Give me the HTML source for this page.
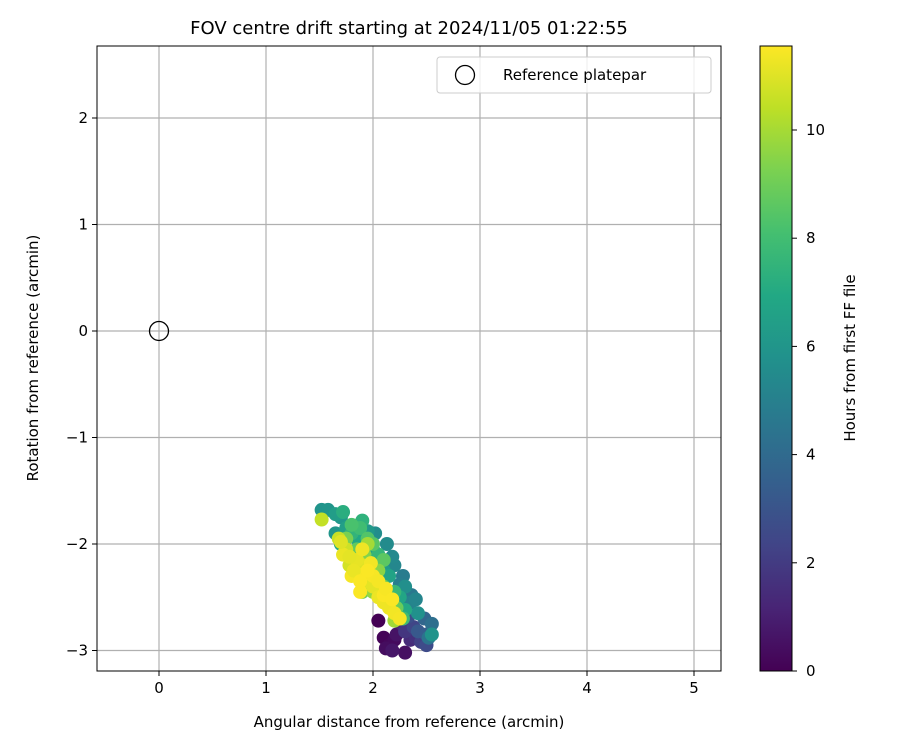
<!DOCTYPE html>
<html><head><meta charset="utf-8"><style>
body{margin:0;background:#fff;}
svg text{font-family:"DejaVu Sans","Liberation Sans",sans-serif;fill:#000;}
</style></head><body>
<svg id="c" width="900" height="750">
<defs><linearGradient id="vg" x1="0" y1="1" x2="0" y2="0">
<stop offset="0" stop-color="#440154"/><stop offset="0.1" stop-color="#482475"/><stop offset="0.2" stop-color="#414487"/><stop offset="0.3" stop-color="#355f8d"/><stop offset="0.4" stop-color="#2a788e"/><stop offset="0.5" stop-color="#21918c"/><stop offset="0.6" stop-color="#22a884"/><stop offset="0.7" stop-color="#44bf70"/><stop offset="0.8" stop-color="#7ad151"/><stop offset="0.9" stop-color="#bddf26"/><stop offset="1" stop-color="#fde725"/></linearGradient>
<clipPath id="pc"><rect x="97" y="46" width="624" height="625"/></clipPath></defs>
<g id="grid"></g><g id="pts" clip-path="url(#pc)"></g><g id="axes"></g>
</svg>
<script>
const xTicks=[0,1,2,3,4,5];
const yTicks=[-3,-2,-1,0,1,2];
const cTicks=[0,2,4,6,8,10];
const pointsX=[2.05,2.1,2.15,2.2,2.12,2.3,2.22,2.18,2.27,2.35,2.4,2.3,2.45,2.38,2.5,2.33,2.42,2.5,2.28,2.48,2.55,2.52,2.36,2.28,2.25,2.35,2.4,2.2,2.18,2.13,2.02,2.3,2.42,2.55,1.52,1.58,1.65,1.7,1.95,2.1,1.65,1.75,2.0,2.15,2.25,1.85,1.7,2.3,1.72,1.9,1.8,2.05,2.2,1.95,2.28,1.88,1.8,1.95,2.0,2.1,1.85,2.1,2.22,1.9,1.75,1.92,2.05,1.8,2.0,2.15,2.2,1.95,1.52,1.68,1.75,1.78,1.85,1.9,1.95,2.0,1.85,1.72,2.05,2.1,2.15,2.2,2.25,1.8,1.92,2.0,1.88,2.1,1.7,1.78,1.82,1.9,1.98,2.05,2.12,2.18,1.88,1.95];
const pointsY=[-2.72,-2.88,-2.95,-2.9,-2.98,-3.02,-2.85,-3.0,-2.75,-2.9,-2.88,-2.82,-2.92,-2.78,-2.95,-2.68,-2.82,-2.85,-2.6,-2.7,-2.75,-2.88,-2.48,-2.3,-2.38,-2.55,-2.52,-2.2,-2.12,-2.0,-1.9,-2.4,-2.65,-2.85,-1.68,-1.68,-1.9,-1.75,-1.88,-2.25,-1.72,-1.85,-2.05,-2.3,-2.5,-1.95,-2.0,-2.62,-1.7,-1.78,-1.9,-2.1,-2.45,-2.3,-2.7,-1.85,-1.82,-1.95,-2.0,-2.15,-2.05,-2.4,-2.6,-2.45,-1.95,-2.1,-2.25,-2.2,-2.45,-2.55,-2.72,-2.0,-1.77,-1.95,-2.05,-2.2,-2.3,-2.2,-2.35,-2.4,-2.15,-2.1,-2.5,-2.55,-2.6,-2.65,-2.7,-2.3,-2.28,-2.3,-2.45,-2.48,-1.98,-2.12,-2.25,-2.05,-2.18,-2.35,-2.42,-2.52,-2.35,-2.25];
const pointsHours=[0,0.1,0.2,0.3,0.4,0.5,0.6,0.7,1.2,1.4,1.6,1.8,2.2,2.4,2.6,2.8,3.2,3.4,3.6,3.8,4.2,4.4,4.6,4.8,4.9,5.1,5.2,5.3,5.4,5.5,5.6,5.7,5.8,5.9,5.95,6.0,6.0,6.1,6.2,6.3,6.4,6.5,6.6,6.7,6.8,6.9,7.0,7.0,7.2,7.4,7.5,7.6,7.7,7.8,7.9,7.95,8.2,8.4,8.5,8.6,8.7,8.8,8.9,8.95,9.2,9.4,9.5,9.6,9.7,9.8,9.9,9.95,10.5,10.6,10.7,10.8,10.9,11.0,11.05,11.1,11.15,11.2,11.25,11.3,11.3,11.35,11.4,11.4,11.45,11.45,11.5,11.5,11.0,11.1,11.2,11.3,11.35,11.4,11.45,11.5,11.5,11.5];
const NS="http://www.w3.org/2000/svg";
const X=v=>159+v*107, Y=v=>331-v*106.5, C=v=>671-v*54.1;
const vir=[[68,1,84],[72,36,117],[65,68,135],[53,95,141],[42,120,142],[33,145,140],[34,168,132],[68,191,112],[122,209,81],[189,223,38],[253,231,37]];
function col(h){let t=Math.max(0,Math.min(1,h/11.55))*(vir.length-1);let i=Math.min(Math.floor(t),vir.length-2),f=t-i;const a=vir[i],b=vir[i+1];return `rgb(${a.map((v,k)=>Math.round(v+(b[k]-v)*f)).join(',')})`;}
function mk(tag,attrs,parent,text){const e=document.createElementNS(NS,tag);for(const k in attrs)e.setAttribute(k,attrs[k]);if(text!==undefined)e.textContent=text;parent.appendChild(e);return e;}
const g=document.getElementById('grid'),p=document.getElementById('pts'),a=document.getElementById('axes');
xTicks.forEach(t=>{const l=mk('line',{x1:X(t),x2:X(t),y1:46,y2:671,stroke:'#b0b0b0','stroke-width':1.2},g);

mk('line',{x1:X(t),x2:X(t),y1:671,y2:676,stroke:'#000'},a);
const tx=mk('text',{x:X(t),y:693,'font-size':15,'text-anchor':'middle'},a,String(t));
});
yTicks.forEach(t=>{const l=mk('line',{x1:97,x2:721,y1:Y(t),y2:Y(t),stroke:'#b0b0b0','stroke-width':1.2},g);

mk('line',{x1:92,x2:97,y1:Y(t),y2:Y(t),stroke:'#000'},a);
const tx=mk('text',{x:88,y:Y(t)+5,'font-size':15,'text-anchor':'end'},a,(t<0?'\u2212'+(-t):String(t)));
});
pointsX.forEach((x,i)=>{const c=mk('circle',{cx:X(x),cy:Y(pointsY[i]),r:7,fill:col(pointsHours[i])},p);
});
let r=mk('circle',{cx:X(0),cy:Y(0),r:9.5,fill:'none',stroke:'#000','stroke-width':1.3},a);

r=mk('rect',{x:97,y:46,width:624,height:625,fill:'none',stroke:'#000','stroke-width':1},a);

const lg=mk('g',{},a);
mk('rect',{x:437,y:57,width:274,height:36,rx:3,fill:'#fff','fill-opacity':0.8,stroke:'#ccc'},lg);
mk('circle',{cx:465,cy:75,r:9.5,fill:'none',stroke:'#000','stroke-width':1.3},lg);
mk('text',{x:503,y:80,'font-size':15},lg,'Reference platepar');
r=mk('rect',{x:760,y:46,width:32,height:625,fill:'url(#vg)',stroke:'#000','stroke-width':1},a);

cTicks.forEach(t=>{mk('line',{x1:792,x2:797,y1:C(t),y2:C(t),stroke:'#000'},a);
const tx=mk('text',{x:806,y:C(t)+5,'font-size':15},a,String(t));
});
let t=mk('text',{x:409,y:34,'font-size':18,'text-anchor':'middle'},a,'FOV centre drift starting at 2024/11/05 01:22:55');

t=mk('text',{x:409,y:727,'font-size':15,'text-anchor':'middle'},a,'Angular distance from reference (arcmin)');

t=mk('text',{x:38,y:358,'font-size':15,'text-anchor':'middle',transform:'rotate(-90 38 358)'},a,'Rotation from reference (arcmin)');

t=mk('text',{x:855,y:358,'font-size':15,'text-anchor':'middle',transform:'rotate(-90 855 358)'},a,'Hours from first FF file');

</script>
</body></html>
